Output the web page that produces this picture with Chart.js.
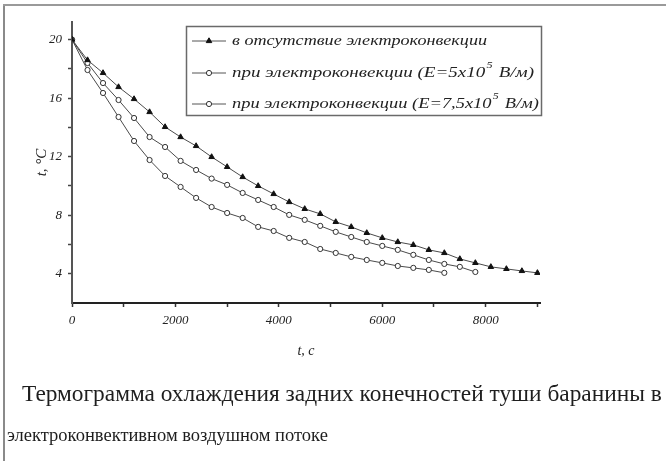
<!DOCTYPE html>
<html><head><meta charset="utf-8">
<script src="https://cdn.jsdelivr.net/npm/chart.js@4.4.1/dist/chart.umd.min.js"></script>
<style>
html,body{margin:0;padding:0;background:#fff;}
#wrap{position:relative;width:666px;height:461px;overflow:hidden;background:#fff;}
#c{position:absolute;left:0;top:0;}
.bl{position:absolute;left:3px;top:4px;width:2px;height:457px;background:#8a8a8a;}
.bt{position:absolute;left:3px;top:4px;width:663px;height:2px;background:#9a9a9a;}
</style></head><body>
<div id="wrap">
<canvas id="c" width="666" height="461" style="width:666px;height:461px"></canvas>
<div class="bl"></div><div class="bt"></div>
</div>
<script>
// ---- data ----
const timeNoEC = [0,300,600,900,1200,1500,1800,2100,2400,2700,3000,3300,3600,3900,4200,4500,4800,5100,5400,5700,6000,6300,6600,6900,7200,7500,7800,8100,8400,8700,9000];
const tempNoEC = [20,18.6,17.72,16.76,15.94,15.05,14.03,13.34,12.73,11.98,11.3,10.61,10.0,9.45,8.9,8.43,8.09,7.54,7.2,6.79,6.45,6.17,5.97,5.63,5.42,5.01,4.74,4.47,4.33,4.19,4.06];
const timeE5 = [0,300,600,900,1200,1500,1800,2100,2400,2700,3000,3300,3600,3900,4200,4500,4800,5100,5400,5700,6000,6300,6600,6900,7200,7500,7800];
const tempE5 = [20,18.4,17.03,15.87,14.64,13.34,12.66,11.71,11.09,10.5,10.07,9.52,9.04,8.56,8.02,7.68,7.27,6.86,6.51,6.17,5.9,5.63,5.29,4.94,4.67,4.47,4.12];
const timeE75 = [0,300,600,900,1200,1500,1800,2100,2400,2700,3000,3300,3600,3900,4200,4500,4800,5100,5400,5700,6000,6300,6600,6900,7200];
const tempE75 = [20,17.92,16.35,14.71,13.07,11.77,10.68,9.93,9.18,8.56,8.15,7.81,7.2,6.92,6.45,6.17,5.69,5.42,5.15,4.94,4.74,4.53,4.4,4.26,4.06];
const seriesLabels = ["в отсутствие электроконвекции","при электроконвекции (E=5x10⁵ В/м)","при электроконвекции (E=7,5x10⁵ В/м)"];
const xTickValues = [0,1000,2000,3000,4000,5000,6000,7000,8000,9000];
const xTickLabels = ["0","","2000","","4000","","6000","","8000",""];
const yTickValues = [4,6,8,10,12,14,16,18,20];
const yTickLabels = ["4","","8","","12","","16","","20"];
const xTitle = "t, c";
const yTitle = "t, °C";
const captionLines = ["Термограмма охлаждения задних конечностей туши баранины в","электроконвективном воздушном потоке"];

function pts(xs, ys){ return xs.map((x,i)=>({x:x, y:ys[i]})); }

const serif = '"Liberation Serif"';

const legendPlugin = {
  id:'boxLegend',
  afterDraw(chart){
    const ctx = chart.ctx;
    ctx.save();
    ctx.strokeStyle = '#6a6a6a'; ctx.lineWidth = 1.5;
    ctx.strokeRect(186.5, 26.5, 355, 89);
    const rowY = [41, 73, 104];
    const ends = [487, 534, 539];
    chart.data.datasets.forEach((ds, i) => {
      const y = rowY[i];
      ctx.strokeStyle = '#555'; ctx.lineWidth = 1;
      ctx.setLineDash([]);
      ctx.beginPath(); ctx.moveTo(192, y); ctx.lineTo(226, y); ctx.stroke();
      ctx.fillStyle = ds.pointBackgroundColor; ctx.strokeStyle = ds.pointBorderColor; ctx.lineWidth = 1;
      Chart.helpers.drawPoint(ctx, {pointStyle: ds.pointStyle, radius: ds.pointRadius, rotation:0, borderWidth:1}, 209, y);
      const label = ds.label;
      const parts = label.split('⁵');
      const fMain = 'italic 14px ' + serif, fSup = 'italic 9px ' + serif;
      ctx.font = fMain;
      let w = ctx.measureText(parts[0]).width;
      let wSup = 0, wTail = 0;
      if (parts.length > 1) {
        ctx.font = fSup; wSup = ctx.measureText('5').width + 2;
        ctx.font = fMain; wTail = ctx.measureText(parts[1]).width;
      }
      const total = w + wSup + wTail;
      const sx = (ends[i] - 232) / total;
      ctx.save();
      ctx.translate(232, y); ctx.scale(sx, 1);
      ctx.fillStyle = '#222'; ctx.textBaseline = 'middle'; ctx.textAlign = 'left';
      ctx.font = fMain; ctx.fillText(parts[0], 0, 0);
      if (parts.length > 1) {
        ctx.font = fSup; ctx.fillText('5', w + 1, -7);
        ctx.font = fMain; ctx.fillText(parts[1], w + wSup, 0);
      }
      ctx.restore();
    });
    ctx.restore();
  }
};

const captionPlugin = {
  id:'caption',
  afterDraw(chart){
    const ctx = chart.ctx;
    const place = [[22, 662, 395], [7, 328, 436]];
    ctx.save();
    ctx.fillStyle = '#1e1e1e'; ctx.textBaseline = 'middle'; ctx.textAlign = 'left';
    captionLines.forEach((txt, i) => {
      const [l, r, cy] = place[i];
      ctx.font = '18px ' + serif;
      const w = ctx.measureText(txt).width;
      const fs = 18 * (r - l) / w;
      ctx.font = fs.toFixed(2) + 'px ' + serif;
      ctx.fillText(txt, l, cy);
    });
    ctx.restore();
  }
};

new Chart(document.getElementById('c'), {
  type: 'line',
  data: {
    datasets: [
      {label: seriesLabels[0], data: pts(timeNoEC, tempNoEC), borderColor:'#4a4a4a', borderWidth:1, pointStyle:'triangle', pointRadius:3.2, pointBackgroundColor:'#111', pointBorderColor:'#111', pointBorderWidth:1, tension:0},
      {label: seriesLabels[1], data: pts(timeE5, tempE5), borderColor:'#4a4a4a', borderWidth:1, pointStyle:'circle', pointRadius:2.6, pointBackgroundColor:'#fff', pointBorderColor:'#333', pointBorderWidth:1, tension:0},
      {label: seriesLabels[2], data: pts(timeE75, tempE75), borderColor:'#4a4a4a', borderWidth:1, pointStyle:'circle', pointRadius:2.6, pointBackgroundColor:'#fff', pointBorderColor:'#333', pointBorderWidth:1, tension:0}
    ]
  },
  options: {
    responsive:false, animation:false, devicePixelRatio:1,
    layout:{padding:{left:0, top:22, right:126, bottom:98}},
    plugins:{legend:{display:false}, tooltip:{enabled:false}},
    scales:{
      x:{
        type:'linear', min:0, max:9050,
        afterBuildTicks(s){ s.ticks = xTickValues.map(v=>({value:v})); },
        afterFit(s){ s.height = 60; },
        ticks:{autoSkip:false, maxRotation:0, padding:6, color:'#222', font:{family:serif, size:13, style:'italic'},
          callback(v){ const i = xTickValues.indexOf(v); return i>=0 ? xTickLabels[i] : ''; }},
        grid:{drawOnChartArea:false, drawTicks:true, tickLength:4, tickColor:'#333', tickWidth:1.5},
        border:{display:true, color:'#222', width:2},
        title:{display:true, text:xTitle, color:'#222', font:{family:serif, size:14, style:'italic'}, padding:{top:0, bottom:3}}
      },
      y:{
        type:'linear', min:2, max:21.2,
        afterBuildTicks(s){ s.ticks = yTickValues.map(v=>({value:v})); },
        afterFit(s){ s.width = 72; },
        ticks:{autoSkip:false, padding:6, color:'#222', font:{family:serif, size:13, style:'italic'},
          callback(v){ const i = yTickValues.indexOf(v); return i>=0 ? yTickLabels[i] : ''; }},
        grid:{drawOnChartArea:false, drawTicks:true, tickLength:4, tickColor:'#444', tickWidth:1.5},
        border:{display:true, color:'#555', width:2},
        title:{display:true, text:yTitle, color:'#222', font:{family:serif, size:15, style:'italic'}, padding:{top:33, bottom:0}}
      }
    }
  },
  plugins:[legendPlugin, captionPlugin]
});
</script>
</body></html>
